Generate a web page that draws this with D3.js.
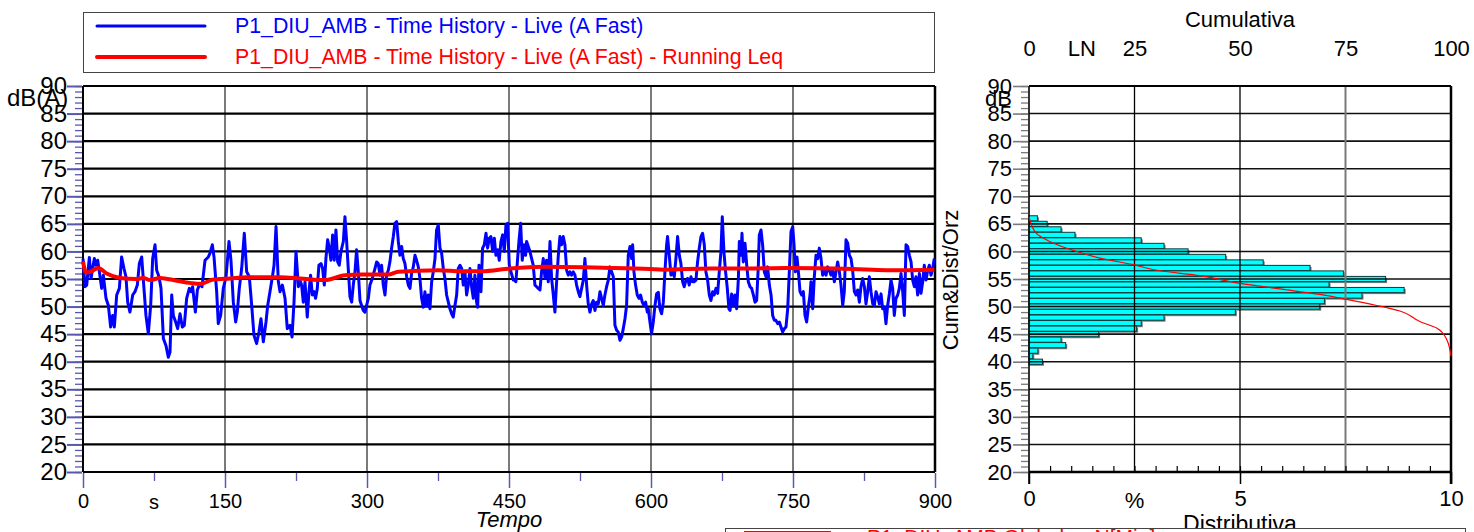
<!DOCTYPE html>
<html><head><meta charset="utf-8">
<script src="https://cdn.jsdelivr.net/npm/d3@7"></script>
<style>
body{margin:0;background:#fff;overflow:hidden}
svg{display:block;font-family:"Liberation Sans",Arial,Helvetica,sans-serif}
</style>
</head><body>
<svg id="chart" width="1474" height="532"></svg>
<script>
// ---------- DATA ----------
const seriesNames = ["P1_DIU_AMB - Time History - Live (A Fast)",
                     "P1_DIU_AMB - Time History - Live (A Fast) - Running Leq"];
const globalLegend = "P1_DIU_AMB Globale - N[Min]";

// Time history (A Fast), seconds / dB(A)
const timeSec = [0,2.1,3.9,6.7,8.5,10.2,12.0,13.7,15.5,17.3,19.7,21.5,24.3,26.8,29.2,31.3,33.1,35.6,38.4,40.8,43.3,45.4,47.2,49.6,52.5,54.9,57.4,59.5,62.0,64.4,66.5,69.0,71.5,73.6,76.1,77.8,80.3,82.4,84.9,87.7,90.1,91.9,93.7,95.4,97.9,100.0,102.5,104.9,107.0,109.5,112.3,114.1,115.8,118.7,120.8,123.6,125.7,128.9,132.4,134.2,136.6,138.4,141.2,142.9,145.4,148.2,151.1,154.2,156.3,158.8,161.3,163.0,165.1,167.6,170.4,172.9,175.7,178.2,180.6,183.4,185.9,188.0,190.5,193.3,195.1,197.5,200.3,201.8,203.9,206.3,208.1,210.6,213.4,215.8,218.7,220.8,222.9,225.0,227.5,229.2,
230.9,232.7,234.5,236.9,238.7,240.4,242.2,244.0,245.7,247.5,249.2,251.4,253.1,254.9,256.6,258.4,260.2,261.9,263.7,265.4,267.2,269.0,270.7,272.5,275.0,276.7,278.5,280.2,282.0,283.8,285.5,287.3,289.0,290.8,292.6,294.3,296.1,297.8,299.6,301.4,303.1,305.6,308.4,310.2,311.9,313.7,315.4,317.2,319.0,320.7,322.5,324.2,326.0,327.8,329.5,331.3,333.1,334.8,336.6,338.3,340.1,341.9,343.6,345.4,347.1,348.9,350.7,352.4,354.2,355.9,357.7,359.5,361.2,363.0,364.7,366.5,368.3,370.0,371.8,373.5,375.3,377.1,378.8,380.6,382.3,384.1,385.9,387.6,389.4,391.1,392.9,394.7,396.4,398.2,400.0,401.7,403.5,405.2,407.0,408.8,410.5,412.3,414.0,415.8,416.9,418.3,420.4,422.1,423.9,425.7,427.4,429.2,430.9,432.7,434.5,436.2,438.0,439.7,441.5,443.3,445.0,446.8,448.5,450.3,452.1,454.5,
455.6,457.3,459.1,460.5,462.3,464.0,465.8,467.5,468.6,470.4,472.1,473.9,475.6,477.4,479.2,480.9,482.7,484.4,486.2,488.0,489.7,491.5,493.3,495.0,496.8,498.5,500.3,502.1,503.8,505.6,507.3,509.1,510.9,512.6,514.4,516.1,517.9,519.7,521.4,523.2,524.9,526.7,528.5,530.2,532.0,533.7,535.5,537.3,539.0,540.8,542.5,544.3,546.1,547.8,549.6,551.3,553.1,554.9,556.6,558.4,560.2,561.9,563.7,565.4,567.2,569.0,570.7,572.5,574.2,576.0,577.8,579.5,580.6,582.0,583.7,585.5,587.3,589.0,590.8,592.5,594.3,596.1,597.1,598.9,600.6,602.4,604.2,605.9,607.7,609.4,611.2,613.0,614.7,616.5,617.5,619.3,621.1,622.8,624.6,626.3,628.1,629.9,631.6,633.4,635.1,636.9,638.7,640.4,642.2,643.9,645.7,647.5,649.2,651.0,652.8,654.5,656.3,658.0,659.8,661.6,663.3,665.1,666.8,668.6,670.4,672.1,673.9,675.3,677.0,678.8,680.6,682.3,
683.5,685.2,687.0,688.7,690.5,692.3,693.3,695.1,696.1,697.5,699.3,701.1,702.8,704.6,706.3,708.1,709.9,711.6,713.4,714.4,716.2,718.0,719.7,721.5,723.2,725.0,726.8,728.5,730.3,732.0,733.8,735.6,737.3,739.1,740.9,742.6,744.4,746.1,747.9,749.7,751.1,752.5,754.2,756.0,757.4,759.2,760.9,762.7,764.4,766.2,768.0,769.0,770.8,772.5,774.3,776.1,777.8,779.6,781.3,783.1,784.9,786.6,788.4,790.1,791.9,793.7,795.4,797.2,799.0,800.7,802.5,804.2,806.0,807.8,809.5,811.3,813.0,814.8,816.6,818.3,820.1,821.8,823.6,825.4,827.1,828.9,830.6,832.4,834.2,835.9,837.7,839.4,841.2,843.0,844.7,846.5,848.2,850.0,851.8,853.5,855.3,857.0,858.8,860.6,862.3,864.1,865.9,867.6,869.4,871.1,872.9,874.7,876.4,878.2,879.9,881.7,883.5,885.2,887.0,888.7,890.5,892.3,894.0,895.8,897.5,899.3];
const levelDb = [58.7,53.6,53.9,58.9,55.1,56.9,58.7,57.5,58.4,56.3,53.3,55.7,51.5,50.2,46.3,48.4,46.3,52.1,53.3,59.0,56.9,55.4,50.8,49.0,52.1,52.7,53.9,57.8,59.0,53.3,48.4,45.1,50.2,58.7,61.2,56.6,55.4,53.3,44.2,42.9,40.8,41.7,52.1,48.4,47.2,46.0,48.7,46.3,46.6,51.5,53.3,52.7,53.6,49.0,53.0,54.2,53.6,58.4,59.0,59.7,61.2,59.0,52.7,46.9,48.4,53.3,55.4,61.8,58.4,50.8,47.2,49.0,53.3,56.9,63.3,56.3,55.4,50.2,44.8,43.3,45.4,47.8,43.6,47.2,50.2,52.7,55.7,57.5,64.5,54.6,52.7,53.9,51.5,46.0,46.6,44.5,50.8,60.0,53.6,54.8,
53.9,50.8,54.5,48.1,52.7,55.7,52.1,52.7,51.5,53.3,57.5,57.8,56.9,53.9,58.7,62.1,60.6,58.4,63.0,58.4,63.9,58.1,57.5,60.0,61.8,66.3,61.8,56.9,51.8,50.8,53.9,56.3,60.3,56.3,51.1,50.2,49.3,49.0,50.2,51.5,53.9,55.1,56.9,58.1,57.8,55.7,57.5,53.9,52.1,55.7,56.6,58.1,60.6,62.7,65.1,65.4,61.8,59.3,60.9,58.7,57.8,55.4,53.9,53.3,56.0,57.2,59.3,58.4,57.2,55.1,51.5,49.9,52.7,50.2,52.1,49.6,54.5,56.3,58.7,63.9,64.8,60.6,59.7,56.9,55.1,52.1,50.8,49.6,48.7,48.1,50.2,52.1,56.9,57.5,56.9,53.9,56.3,52.1,53.9,56.9,53.6,51.5,55.7,50.8,49.9,57.5,52.7,60.6,61.2,63.3,60.6,62.4,62.7,60.0,62.4,59.3,60.3,58.4,61.8,63.0,60.0,64.8,65.1,57.5,56.3,54.8,
54.8,54.5,58.7,61.8,65.1,58.4,61.2,59.3,61.8,60.9,60.0,58.7,57.5,53.9,53.6,53.3,53.0,56.3,58.7,55.1,58.4,54.5,61.8,55.1,52.1,49.0,54.5,59.3,62.7,61.2,62.7,61.2,56.6,55.7,56.3,55.7,56.3,55.7,53.9,52.7,51.8,53.3,54.8,58.7,53.9,50.5,49.0,50.5,51.1,49.3,50.8,50.5,52.7,51.5,50.2,52.1,53.6,54.8,57.2,56.3,55.4,46.6,45.7,45.4,43.9,44.5,46.0,47.8,50.2,59.3,60.9,58.7,61.2,56.3,53.9,52.1,51.5,52.1,50.8,50.2,50.8,49.0,49.6,47.2,45.1,47.2,50.2,52.3,52.6,49.6,48.7,50.8,56.3,61.2,62.7,59.3,55.7,56.3,55.4,58.7,62.7,59.3,57.8,54.5,53.6,54.8,55.1,53.9,55.4,54.5,54.5,54.8,58.1,60.6,62.7,63.3,61.2,56.3,54.8,52.1,51.1,52.7,52.1,53.3,52.4,56.3,60.0,66.3,60.0,56.3,53.3,49.6,
49.3,52.3,50.2,52.1,49.6,55.1,61.8,59.3,63.3,58.1,61.5,57.5,54.5,53.6,53.3,52.1,50.8,51.1,57.5,63.0,63.9,61.0,56.3,55.4,57.2,53.9,52.1,48.4,47.5,47.5,46.9,47.2,46.3,45.4,46.0,46.3,49.6,56.3,63.6,64.5,61.2,56.3,59.0,55.7,52.7,52.1,52.7,48.4,47.2,49.9,52.1,54.5,49.6,55.4,59.3,58.7,60.6,58.7,55.7,56.6,55.7,57.2,56.6,55.7,56.6,54.5,56.3,58.1,56.3,53.9,50.2,52.7,62.1,61.5,59.3,58.7,56.6,52.7,52.1,53.0,50.8,53.6,55.1,53.6,50.5,52.7,55.4,52.7,50.5,50.2,52.7,51.8,50.5,52.3,49.6,49.9,46.9,50.2,52.3,54.8,53.3,48.4,51.5,52.1,53.3,56.0,52.7,48.4,61.2,60.9,59.3,58.1,54.8,53.6,55.4,52.1,56.0,52.4,54.5,57.5,54.8,56.6,57.5,55.7,56.9,58.7];

// Running Leq
const leqTimeSec = [0,3.2,7.4,16.2,25,39,56.7,63.7,70.8,81.3,98.9,113,123.6,137.7,155.3,172.9,208.1,229.2,255.6,276.7,294.3,322.5,333.1,375.3,400,421.1,451,486,556.6,598.9,613,662,700,743.3,813.7,849,899.3];
const leqDb = [58.2,56.2,56.3,57.0,56.0,55.2,55.0,55.2,54.8,55.2,54.7,54.3,54.1,54.9,55.1,55.3,55.3,55.1,54.8,55.7,55.8,55.8,56.3,56.6,56.4,56.4,56.9,57.2,57.0,56.8,56.7,56.9,56.9,57.0,56.8,56.6,56.7];

// Distribution (% per 1 dB class) and cumulative curve
const histLevels = [66,65,64,63,62,61,60,59,58,57,56,55,54,53,52,51,50,49,48,47,46,45,44,43,42,41,40];
const histPct    = [0.20,0.43,0.76,1.09,2.66,3.20,3.77,4.66,5.55,6.66,7.45,8.45,7.11,8.89,7.89,7.00,6.89,4.89,3.20,2.66,2.55,1.65,0.76,0.87,0.21,0.09,0.32];
const cumLevels  = [66.3,63.3,61.8,60.0,58.8,57.6,56.5,55.6,54.2,53.2,52.2,51.3,50.2,49.2,47.3,46.1,44.0,41.0];
const cumPct     = [0,1.7,4.9,11.2,16.8,24.7,31.0,40.5,50.0,59.4,68.9,75.3,82.4,87.9,92.6,96.6,99.0,100];

// Axes ticks / labels
const levelTicks = [20,25,30,35,40,45,50,55,60,65,70,75,80,85,90];
const timeTicks = [0,150,300,450,600,750,900];
const timeMinorTicks = [75,225,375,525,675,825];
const timeUnit = {value:75, label:"s"};
const cumTicks = [0,25,50,75,100];
const cumExtra = {value:12.5, label:"LN"};
const distTicks = [0,5,10];
const distExtra = {value:2.5, label:"%"};

// ---------- DRAW ----------
const svg = d3.select("#chart");
const W = 1474, H = 532;
svg.append("rect").attr("width",W).attr("height",H).attr("fill","#fff");

const yTop = 86, yBot = 472;
const xT = d3.scaleLinear().domain([0,900]).range([83,935]);
const yL = d3.scaleLinear().domain([20,90]).range([yBot,yTop]);
const xP = d3.scaleLinear().domain([0,10]).range([1029,1451]);
const xC = d3.scaleLinear().domain([0,100]).range([1029,1451]);

// ===== Left panel =====
const left = svg.append("g");
left.selectAll("line.vg").data(timeTicks.slice(1,-1)).join("line")
  .attr("x1",d=>xT(d)).attr("x2",d=>xT(d)).attr("y1",yTop).attr("y2",yBot)
  .attr("stroke","#7a7a7a").attr("stroke-width",2);
left.selectAll("line.hg").data(levelTicks).join("line")
  .attr("x1",xT(0)).attr("x2",xT(900)).attr("y1",d=>yL(d)).attr("y2",d=>yL(d))
  .attr("stroke","#000").attr("stroke-width",2.2);
left.append("line").attr("x1",xT(0)).attr("x2",xT(0)).attr("y1",yTop).attr("y2",yBot).attr("stroke","#000").attr("stroke-width",2);
left.append("line").attr("x1",xT(900)).attr("x2",xT(900)).attr("y1",yTop).attr("y2",yBot).attr("stroke","#000").attr("stroke-width",2.5);

const tickBlue = "#5858b0";
const yMinor = d3.range(20,91,1);
const gy1 = left.append("g").attr("transform",`translate(${xT(0)-1},0)`)
  .call(d3.axisLeft(yL).tickValues(yMinor).tickSize(7).tickFormat(""));
gy1.select(".domain").remove();
gy1.selectAll("line").attr("stroke",tickBlue).attr("stroke-width",1.3);
const gy2 = left.append("g").attr("transform",`translate(${xT(0)-1},0)`)
  .call(d3.axisLeft(yL).tickValues(levelTicks).tickSize(15).tickPadding(0));
gy2.select(".domain").remove();
gy2.selectAll("line").attr("stroke",tickBlue).attr("stroke-width",2);
gy2.selectAll("text").attr("font-size",24).attr("fill","#000").attr("font-family","Liberation Sans, Arial, sans-serif");

const gx1 = left.append("g").attr("transform",`translate(0,${yBot+1})`)
  .call(d3.axisBottom(xT).tickValues(timeMinorTicks).tickSize(8).tickFormat(""));
gx1.select(".domain").remove();
gx1.selectAll("line").attr("stroke",tickBlue).attr("stroke-width",1.3);
const gx2 = left.append("g").attr("transform",`translate(0,${yBot+1})`)
  .call(d3.axisBottom(xT).tickValues(timeTicks).tickSize(15).tickPadding(6));
gx2.select(".domain").remove();
gx2.selectAll("line").attr("stroke",tickBlue).attr("stroke-width",1.5);
gx2.selectAll("text").attr("font-size",20).attr("fill","#000").attr("font-family","Liberation Sans Narrow, Liberation Sans, Arial, sans-serif");
left.append("text").attr("x",xT(timeUnit.value)).attr("y",yBot+37).attr("text-anchor","middle")
  .attr("font-size",20).attr("font-family","Liberation Sans Narrow, Liberation Sans, Arial, sans-serif").text(timeUnit.label);
left.append("text").attr("x",xT(450)).attr("y",527).attr("text-anchor","middle")
  .attr("font-size",22).attr("font-style","italic").attr("font-family","Liberation Sans Narrow, Liberation Sans, Arial, sans-serif").text("Tempo");
left.append("text").attr("x",7).attr("y",106).attr("font-size",24).text("dB(A)");

const pts = timeSec.map((t,i)=>[t,levelDb[i]]);
const lineGen = d3.line().x(d=>xT(d[0])).y(d=>yL(d[1]));
left.append("path").datum(pts).attr("d",lineGen).attr("fill","none")
  .attr("stroke","#0000ff").attr("stroke-width",3).attr("stroke-linejoin","round");
const leqPts = leqTimeSec.map((t,i)=>[t,leqDb[i]]);
left.append("path").datum(leqPts).attr("d",lineGen.curve(d3.curveMonotoneX)).attr("fill","none")
  .attr("stroke","#ff0000").attr("stroke-width",4).attr("stroke-linejoin","round");

// top legend
const lg = svg.append("g");
lg.append("rect").attr("x",83.5).attr("y",12.5).attr("width",851).attr("height",60)
  .attr("fill","none").attr("stroke","#444").attr("stroke-width",1);
const legColors = ["#0000ff","#ff0000"];
const legY = [26,57];
seriesNames.forEach((n,i)=>{
  lg.append("line").attr("x1",97).attr("x2",205).attr("y1",legY[i]).attr("y2",legY[i])
    .attr("stroke",legColors[i]).attr("stroke-width",i?4:3).attr("stroke-linecap","round");
  lg.append("text").attr("x",235).attr("y",legY[i]+7).attr("font-size",21.3).attr("fill",legColors[i]).text(n);
});

// ===== Right panel =====
const right = svg.append("g");
const bh = 0.47;
right.selectAll("rect.sh").data(histLevels).join("rect")
  .attr("x",xP(0)).attr("y",(d)=>yL(d+bh)+1.5)
  .attr("width",(d,i)=>xP(histPct[i])-xP(0)+1.5).attr("height",d=>yL(d-bh)-yL(d+bh))
  .attr("fill","#7a7a7a");
right.selectAll("rect.bar").data(histLevels).join("rect")
  .attr("x",xP(0)).attr("y",d=>yL(d+bh))
  .attr("width",(d,i)=>xP(histPct[i])-xP(0)).attr("height",d=>yL(d-bh)-yL(d+bh))
  .attr("fill","#00ffff").attr("stroke","#0a3a3a").attr("stroke-width",1);
right.selectAll("line.hg").data(levelTicks).join("line")
  .attr("x1",xP(0)).attr("x2",xP(10)).attr("y1",d=>yL(d)).attr("y2",d=>yL(d))
  .attr("stroke","#111").attr("stroke-width",1.6);
right.selectAll("line.vg").data([2.5,5,7.5]).join("line")
  .attr("x1",d=>xP(d)).attr("x2",d=>xP(d)).attr("y1",yTop).attr("y2",yBot)
  .attr("stroke",d=>d===7.5?"#7a7a7a":"#000").attr("stroke-width",d=>d===7.5?2:1.3);
right.append("line").attr("x1",xP(0)).attr("x2",xP(0)).attr("y1",yTop).attr("y2",yBot+12).attr("stroke","#000").attr("stroke-width",1.6);
right.append("line").attr("x1",xP(10)).attr("x2",xP(10)).attr("y1",yTop).attr("y2",yBot+12).attr("stroke","#000").attr("stroke-width",2.5);
right.append("line").attr("x1",xP(0)).attr("x2",xP(10)).attr("y1",yBot).attr("y2",yBot).attr("stroke","#000").attr("stroke-width",2.5);
right.append("line").attr("x1",xP(0)).attr("x2",xP(10)).attr("y1",yTop).attr("y2",yTop).attr("stroke","#000").attr("stroke-width",2);

const cumPts = cumLevels.map((l,i)=>[cumPct[i],l]);
right.append("path").datum(cumPts)
  .attr("d",d3.line().x(d=>xC(d[0])).y(d=>yL(d[1])).curve(d3.curveMonotoneY))
  .attr("fill","none").attr("stroke","#ff0000").attr("stroke-width",1.2);

const tickGray = "#7a7a7a";
const ry1 = right.append("g").attr("transform",`translate(${xP(0)-1},0)`)
  .call(d3.axisLeft(yL).tickValues(yMinor).tickSize(7).tickFormat(""));
ry1.select(".domain").remove();
ry1.selectAll("line").attr("stroke",tickGray).attr("stroke-width",1.3);
const ry2 = right.append("g").attr("transform",`translate(${xP(0)-1},0)`)
  .call(d3.axisLeft(yL).tickValues(levelTicks).tickSize(15).tickPadding(1));
ry2.select(".domain").remove();
ry2.selectAll("line").attr("stroke",tickGray).attr("stroke-width",1.6);
ry2.selectAll("text").attr("font-size",22).attr("fill","#000").attr("font-family","Liberation Sans, Arial, sans-serif");
right.append("text").attr("x",1012).attr("y",106).attr("text-anchor","end").attr("font-size",22).text("dB");
right.append("text").attr("transform",`translate(958,280) rotate(-90)`).attr("text-anchor","middle")
  .attr("font-size",22).text("Cum&Dist/Orz");

const rx1 = right.append("g").attr("transform",`translate(0,${yBot})`)
  .call(d3.axisTop(xP).tickValues(d3.range(0.5,10,0.5)).tickSize(6).tickFormat(""));
rx1.select(".domain").remove();
rx1.selectAll("line").attr("stroke","#000").attr("stroke-width",1.2);
const rx2 = right.append("g").attr("transform",`translate(0,${yBot})`)
  .call(d3.axisBottom(xP).tickValues(distTicks).tickSize(12).tickPadding(6).tickFormat(d3.format("d")));
rx2.select(".domain").remove();
rx2.selectAll("line").attr("stroke","#000").attr("stroke-width",1.5);
rx2.selectAll("text").attr("font-size",22).attr("fill","#000").attr("font-family","Liberation Sans, Arial, sans-serif");
right.append("text").attr("x",xP(distExtra.value)).attr("y",508).attr("text-anchor","middle").attr("font-size",22).text(distExtra.label);

const cx = right.append("g").attr("transform",`translate(0,56)`)
  .call(d3.axisTop(xC).tickValues(cumTicks).tickSize(0).tickPadding(0));
cx.select(".domain").remove();
cx.selectAll("text").attr("font-size",22).attr("fill","#000").attr("dy",0).attr("font-family","Liberation Sans, Arial, sans-serif");
right.append("text").attr("x",xC(cumExtra.value)).attr("y",56).attr("text-anchor","middle").attr("font-size",22).text(cumExtra.label);
right.append("text").attr("x",xC(50)).attr("y",27).attr("text-anchor","middle").attr("font-size",22).text("Cumulativa");
right.append("text").attr("x",xP(5)).attr("y",532).attr("text-anchor","middle").attr("font-size",23).text("Distributiva");

// bottom legend (partially visible)
const bl = svg.append("g");
bl.append("rect").attr("x",725.5).attr("y",528.5).attr("width",740).attr("height",30)
  .attr("fill","#fff").attr("stroke","#444").attr("stroke-width",1);
bl.append("rect").attr("x",744).attr("y",531).attr("width",87).attr("height",12).attr("fill","#ff0000");
bl.append("text").attr("x",867).attr("y",544).attr("font-size",21).attr("fill","#ff0000").text(globalLegend);
</script>
</body></html>
